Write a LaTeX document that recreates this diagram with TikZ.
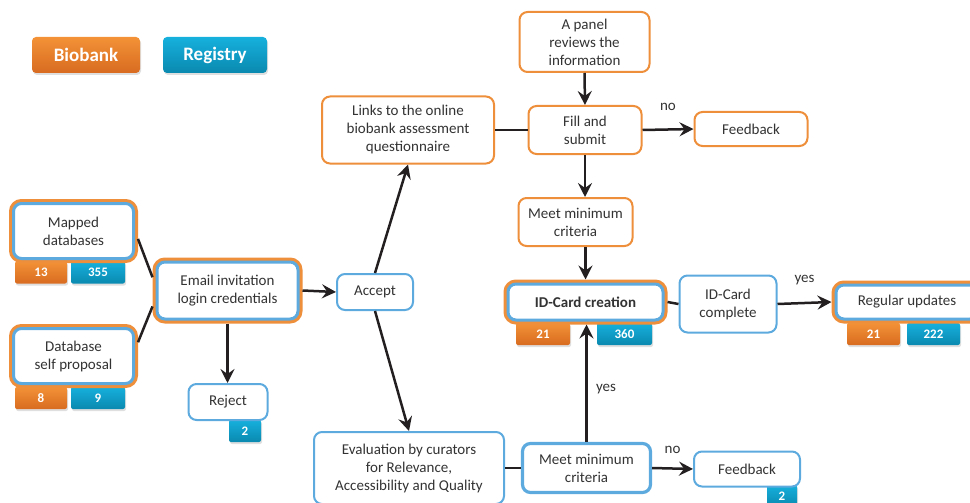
\documentclass[tikz,border=0pt]{standalone}
\usepackage{fontspec}
\setmainfont{Carlito}
\usetikzlibrary{arrows.meta,calc,shadows}

\definecolor{bborange}{HTML}{EE8F3C}
\definecolor{bbblue}{HTML}{5DAADF}
\definecolor{orangetop}{HTML}{F39237}
\definecolor{orangebot}{HTML}{D86B20}
\definecolor{bluetop}{HTML}{16B0DD}
\definecolor{bluebot}{HTML}{0A89AF}
\definecolor{txtgray}{HTML}{333333}
\definecolor{flowc}{HTML}{231F20}

\begin{document}
\begin{tikzpicture}[x=1pt,y=-1pt,
  font=\fontsize{15}{18}\selectfont, text=txtgray,
  stage/.style={rounded corners=8pt, draw, line width=2pt, fill=white, align=center, inner sep=2pt},
  ostage/.style={stage, draw=bborange},
  bstage/.style={stage, draw=bbblue},
  dstage/.style={stage, draw=bbblue, line width=3pt, outer sep=4.5pt, preaction={draw=bborange, line width=9pt}},
  badge/.style={rounded corners=2pt, text=white, font=\fontsize{13}{15}\selectfont\bfseries, minimum height=22pt,
    drop shadow={opacity=0.25, shadow xshift=1pt, shadow yshift=-2pt}},
  obadge/.style={badge, top color=orangetop, bottom color=orangebot},
  bbadge/.style={badge, top color=bluetop, bottom color=bluebot},
  flow/.style={line width=2.5pt, draw=flowc},
  arr/.style={flow, -{Stealth[length=14pt, width=14pt, inset=5pt]}}
]
\useasboundingbox (0,0) rectangle (970,503);

% legend
\node[obadge, minimum width=108pt, minimum height=36pt, rounded corners=4pt, font=\fontsize{19}{21}\selectfont\bfseries] (biolegend) at (86,55) {Biobank};
\node[bbadge, minimum width=104pt, minimum height=36pt, rounded corners=4pt, font=\fontsize{19}{21}\selectfont\bfseries] (reglegend) at (215,55) {Registry};

% counts (drawn first, the boxes overlap them)
\node[obadge, minimum width=52pt] (mapbio) at (41,272.5) {13};
\node[bbadge, minimum width=54pt] (mapreg) at (98,272.5) {355};
\node[obadge, minimum width=52pt] (selfbio) at (41,398) {8};
\node[bbadge, minimum width=54pt] (selfreg) at (98,398) {9};
\node[bbadge, minimum width=32pt] (rejreg) at (245,431) {2};
\node[obadge, minimum width=54pt] (idbio) at (543,334) {21};
\node[bbadge, minimum width=55pt] (idreg) at (624.5,334) {360};
\node[obadge, minimum width=53pt] (updbio) at (873.5,334) {21};
\node[bbadge, minimum width=53pt] (updreg) at (933.5,334) {222};
\node[bbadge, minimum width=30pt] (fbreg) at (782,496) {2};

% boxes
\node[dstage, minimum width=120pt, minimum height=55pt] (mapped) at (73.5,231) {Mapped\\databases};
\node[dstage, minimum width=120pt, minimum height=55pt] (selfprop) at (73.5,356) {Database\\self proposal};
\node[dstage, minimum width=141pt, minimum height=57pt] (email) at (227.5,290.5) {Email invitation\\login credentials};
\node[bstage, minimum width=79pt, minimum height=36pt] (reject) at (228,402) {Reject};
\node[bstage, minimum width=76pt, minimum height=36pt] (accept) at (375,292) {Accept};
\node[ostage, minimum width=172pt, minimum height=67pt] (links) at (408,130) {Links to the online\\biobank assessment\\questionnaire};
\node[ostage, minimum width=130pt, minimum height=60pt] (panel) at (584.5,42) {A panel\\reviews the\\information};
\node[ostage, minimum width=113pt, minimum height=48pt] (fill) at (585,130) {Fill and\\submit};
\node[ostage, minimum width=113pt, minimum height=34pt] (fbtop) at (751,129) {Feedback};
\node[ostage, minimum width=114pt, minimum height=48pt] (meettop) at (575.5,222) {Meet minimum\\criteria};
\node[dstage, minimum width=155pt, minimum height=36pt, font=\fontsize{15}{18}\selectfont\bfseries] (idcard) at (585.5,302) {ID-Card creation};
\node[bstage, minimum width=97pt, minimum height=57pt] (idcomplete) at (728,304) {ID-Card\\complete};
\node[dstage, minimum width=142pt, minimum height=34pt] (updates) at (907,302) {Regular updates};
\node[bstage, minimum width=190pt, minimum height=72pt] (eval) at (409,468) {Evaluation by curators\\for Relevance,\\Accessibility and Quality};
\node[bstage, line width=3.2pt, minimum width=128pt, minimum height=49pt] (meetbot) at (586.5,468) {Meet minimum\\criteria};
\node[bstage, minimum width=106pt, minimum height=35pt] (fbbot) at (747,469) {Feedback};

% connectors
\draw[flow] (mapped.-7) -- (email.170);
\draw[flow] (selfprop.12) -- (email.192);
\draw[arr] (email.east) -- (accept.west);
\draw[arr] (email.south) -- (email.south |- reject.north);
\draw[arr] (accept.north) -- (links.south);
\draw[arr] (accept.south) -- (eval.north);
\draw[flow] (links.east) -- (fill.west);
\draw[arr] (panel.south) -- (fill.north);
\draw[arr] (fill.east) -- node[midway, above=14pt] {no} (fbtop.west);
\draw[arr] (fill.south) -- (fill.south |- meettop.north);
\draw[arr] (idcard.north |- meettop.south) -- (idcard.north);
\draw[flow] (idcard.east) -- (idcomplete.west);
\draw[arr] (idcomplete.east) -- node[midway, above=14pt] {yes} (updates.west);
\draw[flow] (eval.east) -- (meetbot.west);
\draw[arr] (meetbot.north) -- node[pos=0.45, right=5pt] {yes} (meetbot.north |- idcard.south);
\draw[arr] (meetbot.east) -- node[midway, above=10pt] {no} (fbbot.west);
\end{tikzpicture}
\end{document}
